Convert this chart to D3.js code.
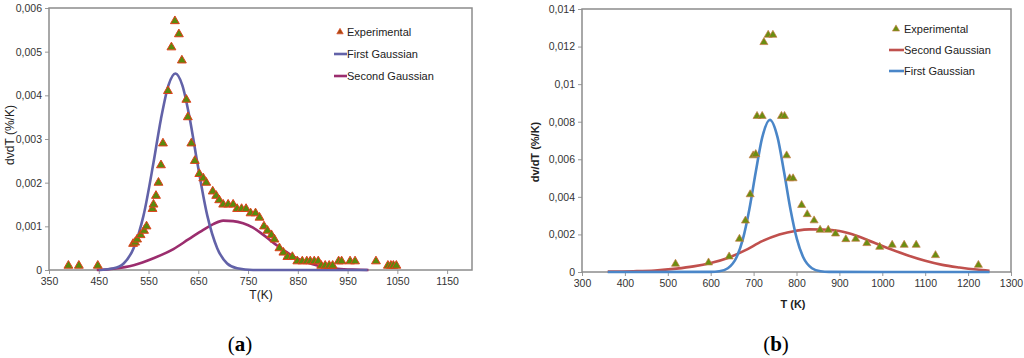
<!DOCTYPE html>
<html>
<head>
<meta charset="utf-8">
<script src="https://cdn.jsdelivr.net/npm/d3@7"></script>
<style>
  body { margin: 0; background: #fff; }
  svg text { font-family: "Liberation Sans", Arial, sans-serif; }
</style>
</head>
<body>
<svg id="chart" width="1024" height="358"></svg>
<script>
// ---- panel (a) data ----
const expA_T = [389, 410, 448, 519, 523, 527, 534, 541, 546, 558, 560, 565, 570, 575, 579, 589, 596, 603, 611, 617,
  626, 629, 636, 643, 652, 660, 666, 679, 686, 692, 700, 710, 720, 728, 737, 746, 755, 765, 773, 782,
  789, 797, 803, 813, 821, 829, 839, 849, 859, 868, 875, 883, 891, 897, 905, 913, 920, 932, 938, 955,
  965, 1007, 1031, 1037, 1042, 1048];
const expA_V = [0.0001, 0.0001, 0.0001, 0.0006, 0.00063, 0.0007, 0.0008, 0.0009, 0.001, 0.0014, 0.0015, 0.0017, 0.002, 0.0024, 0.0029, 0.0041, 0.0051, 0.0057, 0.0054, 0.0048,
  0.0039, 0.0035, 0.0029, 0.0025, 0.0022, 0.0021, 0.002, 0.0018, 0.0017, 0.0016, 0.0015, 0.0015, 0.0015, 0.0014, 0.0014, 0.0014, 0.0013, 0.0013, 0.0012, 0.001,
  0.0009, 0.0008, 0.0007, 0.0005, 0.0004, 0.0003, 0.0003, 0.0002, 0.0002, 0.0002, 0.0002, 0.0002, 0.0002, 0.0001, 0.0001, 0.0001, 0.0001, 0.0002, 0.0002, 0.0002,
  0.0002, 0.0002, 0.0001, 0.0001, 0.0001, 0.0001];
const firstA_T = [450, 480, 500, 520, 540, 560, 575, 590, 604, 618, 633, 648, 668, 688, 708, 728, 760, 850, 990];
const firstA_V = [0, 0.00004, 0.00015, 0.0005, 0.00125, 0.00246, 0.00346, 0.00423, 0.0045, 0.00423, 0.00346, 0.00246, 0.00125, 0.0005, 0.00015, 0.00004, 0, 0, 0];
const secondA_T = [446, 480, 520, 560, 600, 630, 660, 680, 700, 720, 740, 760, 780, 800, 820, 840, 860, 880, 900, 930, 960, 992];
const secondA_V = [0, 0.00003, 0.00011, 0.00027, 0.00048, 0.0007, 0.00092, 0.00105, 0.00113, 0.00112, 0.00107, 0.00097, 0.00081, 0.00063, 0.00047, 0.00032, 0.00021, 0.00013, 0.00007, 0.00003, 0.00001, 0];
const xTicksA = [350, 450, 550, 650, 750, 850, 950, 1050, 1150];
const xLabelsA = ["350", "450", "550", "650", "750", "850", "950", "1050", "1150"];
const yTicksA = [0, 0.001, 0.002, 0.003, 0.004, 0.005, 0.006];
const yLabelsA = ["0", "0,001", "0,002", "0,003", "0,004", "0,005", "0,006"];

// ---- panel (b) data ----
const expB_T = [518, 595, 643, 667, 681, 692, 699, 705, 708, 720, 724, 734, 745, 765, 772, 777, 784, 792, 812, 825,
  841, 855, 874, 891, 915, 938, 964, 994, 1023, 1051, 1079, 1124, 1224];
const expB_V = [0.00043, 0.0005, 0.00082, 0.00176, 0.00273, 0.00413, 0.0062, 0.00627, 0.0083, 0.0083, 0.01223, 0.01262, 0.01262, 0.0083, 0.0083, 0.0062, 0.00498, 0.00498, 0.00356, 0.00307,
  0.00274, 0.00224, 0.00224, 0.00204, 0.00174, 0.00176, 0.00153, 0.00133, 0.00144, 0.00144, 0.00144, 0.00089, 0.00037];
const secondB_T = [360, 420, 470, 520, 560, 600, 640, 680, 720, 760, 800, 830, 860, 900, 940, 980, 1020, 1060, 1100, 1140, 1180, 1220, 1250];
const secondB_V = [0.00002, 0.00004, 0.00008, 0.00018, 0.0003, 0.00048, 0.00075, 0.00115, 0.00164, 0.002, 0.0022, 0.00227, 0.00226, 0.00218, 0.00193, 0.00157, 0.00121, 0.00088, 0.0006, 0.00038, 0.00024, 0.00013, 0.00007];
const firstB_T = [360, 600, 620, 640, 660, 675, 690, 705, 720, 738, 756, 771, 786, 801, 816, 836, 856, 876, 1000, 1250];
const firstB_V = [0, 0.000005, 0.00004, 0.0002, 0.00077, 0.00175, 0.00333, 0.00532, 0.00715, 0.0081, 0.00715, 0.00532, 0.00333, 0.00175, 0.00077, 0.0002, 0.00004, 0.000005, 0, 0];
const xTicksB = [300, 400, 500, 600, 700, 800, 900, 1000, 1100, 1200, 1300];
const xLabelsB = ["300", "400", "500", "600", "700", "800", "900", "1000", "1100", "1200", "1300"];
const yTicksB = [0, 0.002, 0.004, 0.006, 0.008, 0.01, 0.012, 0.014];
const yLabelsB = ["0", "0,002", "0,004", "0,006", "0,008", "0,01", "0,012", "0,014"];

const svg = d3.select("#chart");
const zip = (xs, ys) => xs.map((x, i) => [x, ys[i]]);

function panel(cfg) {
  const x = d3.scaleLinear().domain(cfg.xDomain).range([cfg.left, cfg.right]);
  const y = d3.scaleLinear().domain(cfg.yDomain).range([cfg.bottom, cfg.top]);
  const g = svg.append("g");

  // axes
  const xa = g.append("g")
    .attr("transform", "translate(0," + cfg.bottom + ")")
    .call(d3.axisBottom(x).tickValues(cfg.xTicks).tickSizeInner(4).tickSizeOuter(0).tickPadding(4)
      .tickFormat((d, i) => cfg.xLabels[i]));
  const ya = g.append("g")
    .attr("transform", "translate(" + cfg.left + ",0)")
    .call(d3.axisLeft(y).tickValues(cfg.yTicks).tickSizeInner(4).tickSizeOuter(0).tickPadding(3)
      .tickFormat((d, i) => cfg.yLabels[i]));
  [xa, ya].forEach(a => {
    a.select(".domain").remove();
    a.selectAll("line").attr("stroke", "#999");
    a.selectAll("text").attr("fill", "#333").style("font-size", "10.5px")
      .style("font-family", "'Liberation Sans', Arial, sans-serif");
  });

  // frame
  g.append("rect")
    .attr("x", cfg.left).attr("y", cfg.top)
    .attr("width", cfg.right - cfg.left).attr("height", cfg.bottom - cfg.top)
    .attr("fill", "none").attr("stroke", "#8c8c8c").attr("stroke-width", 1.5);

  // curves
  const line = d3.line().x(d => x(d[0])).y(d => y(d[1])).curve(d3.curveMonotoneX);
  cfg.lines.forEach(l => {
    g.append("path").datum(zip(l.t, l.v))
      .attr("d", line).attr("fill", "none")
      .attr("stroke", l.color).attr("stroke-width", 2.6);
  });

  // experimental points
  const tri = d3.symbol().type(d3.symbolTriangle).size(cfg.markSize);
  g.selectAll(".pt").data(zip(cfg.expT, cfg.expV)).enter()
    .append("path")
    .attr("transform", d => "translate(" + x(d[0]) + "," + y(d[1]) + ")")
    .attr("d", tri)
    .attr("fill", cfg.markFill).attr("stroke", cfg.markStroke).attr("stroke-width", cfg.markStrokeW);

  // axis titles
  g.append("text")
    .attr("transform", "translate(" + cfg.yTitle.x + "," + cfg.yTitle.y + ") rotate(-90)")
    .attr("text-anchor", "middle").attr("dominant-baseline", "central")
    .style("font-size", cfg.bold ? "11px" : "12px").style("font-weight", cfg.bold ? "bold" : "normal")
    .attr("fill", "#222").text(cfg.yTitle.text);
  g.append("text")
    .attr("x", cfg.xTitle.x).attr("y", cfg.xTitle.y)
    .attr("text-anchor", "middle").attr("dominant-baseline", "central")
    .style("font-size", cfg.bold ? "11px" : "12px").style("font-weight", cfg.bold ? "bold" : "normal")
    .attr("fill", "#222").text(cfg.xTitle.text);

  // legend
  const lg = g.append("g").attr("transform", "translate(" + cfg.legend.x + "," + cfg.legend.y + ")");
  cfg.legend.items.forEach((it, i) => {
    const yy = i * cfg.legend.step;
    if (it.type === "mark") {
      lg.append("path").attr("transform", "translate(" + (cfg.legend.markX) + "," + yy + ")")
        .attr("d", d3.symbol().type(d3.symbolTriangle).size(cfg.legend.markSize))
        .attr("fill", cfg.legend.markFill).attr("stroke", cfg.markStroke).attr("stroke-width", 0.6);
    } else {
      lg.append("line").attr("x1", 0).attr("x2", cfg.legend.lineLen).attr("y1", yy).attr("y2", yy)
        .attr("stroke", it.color).attr("stroke-width", 2.6);
    }
    lg.append("text").attr("x", cfg.legend.textX).attr("y", yy)
      .attr("dominant-baseline", "central").style("font-size", cfg.legend.fontSize)
      .attr("fill", "#222").text(it.label);
  });

  // panel label
  const pl = svg.append("text")
    .attr("x", cfg.tag.x).attr("y", 351).attr("text-anchor", "middle")
    .style("font-family", "'Liberation Serif', 'Times New Roman', serif")
    .style("font-size", "21px").attr("fill", "#000");
  pl.append("tspan").text("(");
  pl.append("tspan").style("font-weight", "bold").text(cfg.tag.text);
  pl.append("tspan").text(")");
}

panel({
  xDomain: [350, 1200], yDomain: [0, 0.006],
  left: 49, right: 472, top: 8, bottom: 270,
  xTicks: xTicksA, xLabels: xLabelsA, yTicks: yTicksA, yLabels: yLabelsA,
  lines: [
    { t: secondA_T, v: secondA_V, color: "#9b2d6e" },
    { t: firstA_T, v: firstA_V, color: "#6262a8" }
  ],
  expT: expA_T, expV: expA_V,
  markSize: 34, markFill: "#5a8a0c", markStroke: "#e0401c", markStrokeW: 1,
  yTitle: { x: 10, y: 135, text: "dvdT (%/K)" },
  xTitle: { x: 261, y: 295, text: "T(K)" },
  bold: false,
  legend: {
    x: 334, y: 32, step: 22, lineLen: 13, textX: 13, markX: 6, markSize: 18, markFill: "#a84a10", fontSize: "11px",
    items: [
      { type: "mark", label: "Experimental" },
      { type: "line", label: "First Gaussian", color: "#6262a8" },
      { type: "line", label: "Second Gaussian", color: "#9b2d6e" }
    ]
  },
  tag: { x: 240, text: "a" }
});

panel({
  xDomain: [300, 1300], yDomain: [0, 0.014],
  left: 582, right: 1011, top: 9, bottom: 272,
  xTicks: xTicksB, xLabels: xLabelsB, yTicks: yTicksB, yLabels: yLabelsB,
  lines: [
    { t: secondB_T, v: secondB_V, color: "#c0504d" },
    { t: firstB_T, v: firstB_V, color: "#4a86c8" }
  ],
  expT: expB_T, expV: expB_V,
  markSize: 28, markFill: "#6b8e11", markStroke: "#c77a45", markStrokeW: 0.7,
  yTitle: { x: 535, y: 152, text: "dv/dT (%/K)" },
  xTitle: { x: 793, y: 304, text: "T (K)" },
  bold: true,
  legend: {
    x: 889, y: 29, step: 21, lineLen: 15, textX: 15, markX: 7, markSize: 22, markFill: "#6b8e11", fontSize: "11px",
    items: [
      { type: "mark", label: "Experimental" },
      { type: "line", label: "Second Gaussian", color: "#c0504d" },
      { type: "line", label: "First Gaussian", color: "#4a86c8" }
    ]
  },
  tag: { x: 776, text: "b" }
});
</script>
</body>
</html>
